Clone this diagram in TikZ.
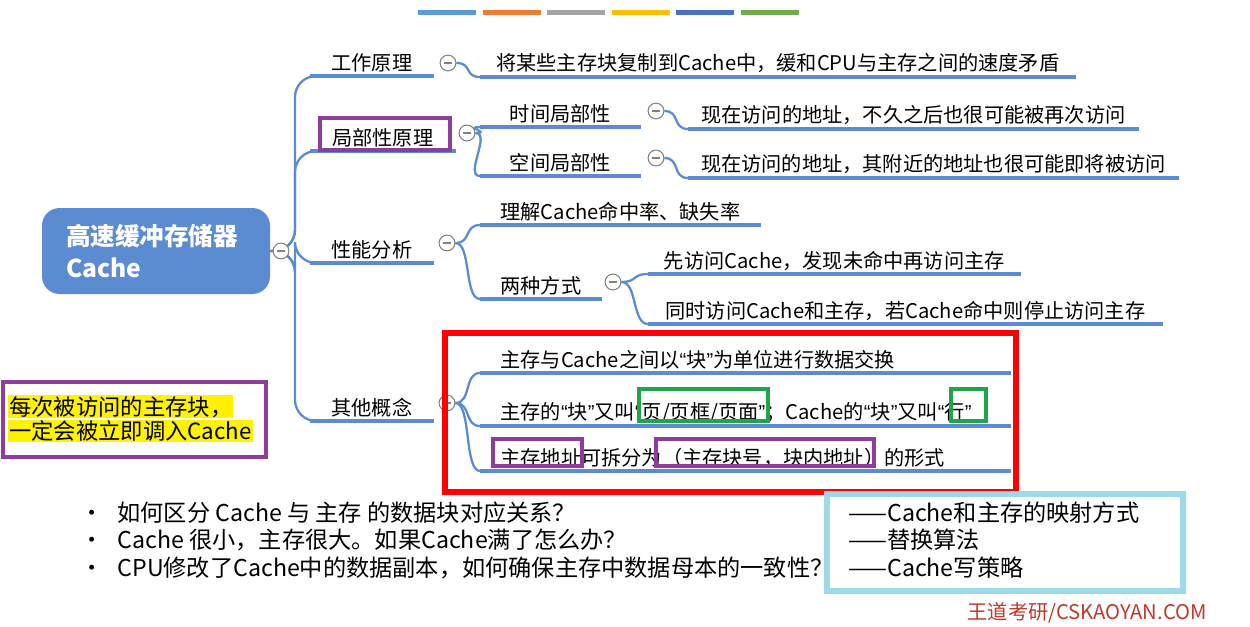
\documentclass[tikz,border=0pt]{standalone}
\usepackage{fontspec}
\setmainfont{Noto Sans CJK SC}
\newfontfamily\latinq{Liberation Sans}
\usetikzlibrary{positioning}
\definecolor{mapblue}{HTML}{5B8BD0}
\definecolor{barblue}{HTML}{5B9BD5}
\definecolor{barorange}{HTML}{ED7D31}
\definecolor{bargray}{HTML}{A5A5A5}
\definecolor{baryellow}{HTML}{FFC000}
\definecolor{bardark}{HTML}{4472C4}
\definecolor{bargreen}{HTML}{70AD47}
\definecolor{boxpurple}{HTML}{8E3C9E}
\definecolor{boxgreen}{HTML}{1FA64A}
\definecolor{boxcyan}{HTML}{9DD9E8}
\definecolor{brandred}{HTML}{C0392B}
\tikzset{
  branch/.style={mapblue, line width=1.3pt, rounded corners=12},
  twig/.style={mapblue, line width=1.3pt},
  uline/.style={mapblue, line width=1.8pt},
  topic/.style={inner sep=0pt, anchor=south west, align=center, font=\fontsize{11.5}{14}\selectfont},
  fold/.style={circle, draw=gray, line width=0.6pt, minimum size=9pt, inner sep=0pt, fill=white,
    path picture={\draw[gray, line width=0.6pt] ([xshift=-2.5pt]path picture bounding box.center) -- ([xshift=2.5pt]path picture bounding box.center);}},
  markbox/.style={line width=2.2pt},
}
% comillas estrechas
\newcommand{\oq}{{\latinq “}}
\newcommand{\cq}{{\latinq ”}}
% topic node: name, x1, x2, y of underline, text
\newcommand{\topicnode}[5]{%
  \node[topic, minimum width={(#3-#2)*0.02cm}, minimum height=15pt] (#1) at (#2,#4) {#5};
  \draw[uline] (#1.south west) -- (#1.south east);}
\newcommand{\lefttext}[1]{\makebox[10.6cm][l]{\hspace*{0.4cm}#1}}
\begin{document}
\begin{tikzpicture}[x=0.02cm, y=-0.02cm]
  \useasboundingbox (0,0) rectangle (1250,626);

  % barras de color
  \foreach \c [count=\i from 0] in {barblue,barorange,bargray,baryellow,bardark,bargreen}
    \fill[\c] (418+\i*64.6,10) rectangle ++(58,5);

  % raiz
  \node[fill=mapblue, rounded corners=10pt, minimum width=228*0.02cm, minimum height=86*0.02cm,
        text=white, font=\fontsize{14}{18}\bfseries\selectfont, align=left, text width=180*0.02cm]
        (root) at (156,251) {高速缓冲存储器\\Cache};

  % primer nivel
  \topicnode{t1}{310}{433}{76}{工作原理}
  \topicnode{t2}{310}{455}{151}{局部性原理}
  \topicnode{t3}{310}{433}{263}{性能分析}
  \topicnode{t4}{310}{433}{421}{其他概念}
  \coordinate (hub) at (295,251);
  \foreach \t in {t1,t2,t3,t4}
    \draw[branch] (root.east) -- (hub) |- (\t.south west);

  % hojas
  \topicnode{a1}{480}{1075}{77}{将某些主存块复制到Cache中，缓和CPU与主存之间的速度矛盾}
  \topicnode{b1}{480}{640}{127}{时间局部性}
  \topicnode{b2}{480}{640}{176}{空间局部性}
  \topicnode{b3}{688}{1138}{129}{现在访问的地址，不久之后也很可能被再次访问}
  \topicnode{b4}{688}{1178}{178}{现在访问的地址，其附近的地址也很可能即将被访问}
  \topicnode{c1}{480}{760}{225}{理解Cache命中率、缺失率}
  \topicnode{c2}{480}{601}{299}{两种方式}
  \topicnode{c3}{648}{1020}{274}{先访问Cache，发现未命中再访问主存}
  \topicnode{c4}{648}{1162}{324}{同时访问Cache和主存，若Cache命中则停止访问主存}
  \topicnode{d1}{480}{1010}{373}{\lefttext{主存与Cache之间以\oq 块\cq 为单位进行数据交换}}
  \topicnode{d2}{480}{1010}{426}{\lefttext{主存的\oq 块\cq 又叫\oq 页/页框/页面\cq ；Cache的\oq 块\cq 又叫\oq 行\cq}}
  \topicnode{d3}{480}{1010}{471}{\lefttext{主存地址可拆分为（主存块号，块内地址）的形式}}

  % botones
  \node[fold] (f0) at (281,251) {};
  \node[fold] (f1) at (448,63) {};
  \node[fold] (f2) at (467,133) {};
  \node[fold] (f3) at (447,243) {};
  \node[fold] (f4) at (447,403) {};
  \node[fold] (f5) at (656,111) {};
  \node[fold] (f6) at (656,158) {};
  \node[fold] (f7) at (613,282) {};

  % conectores
  \foreach \f/\t in {f1/a1, f2/b1, f2/b2, f5/b3, f6/b4, f3/c1, f3/c2, f7/c3, f7/c4, f4/d1, f4/d2, f4/d3}
    \draw[twig] (\f.east) .. controls +(16,0) and +(-16,0) .. (\t.south west);

  % marcos
  \draw[red, line width=3pt] (445,333) rectangle (1016,492);
  \draw[markbox, boxpurple] (320,118) rectangle (450,150);
  \draw[markbox, boxgreen] (639,389) rectangle (768,421);
  \draw[markbox, boxgreen] (951,389) rectangle (986,421);
  \draw[markbox, boxpurple] (493,439) rectangle (582,466);
  \draw[markbox, boxpurple] (656,439) rectangle (874,466);

  % nota izquierda
  \draw[markbox, boxpurple] (3,382) rectangle (266,457);
  \node[anchor=north west, inner sep=0pt, align=left, font=\fontsize{12.7}{16}\selectfont] (note) at (8,395)
    {\setlength{\fboxsep}{0.5pt}\colorbox{yellow}{每次被访问的主存块，}\\[-2pt]\setlength{\fboxsep}{0.5pt}\colorbox{yellow}{一定会被立即调入Cache}};

  % preguntas
  \foreach \y/\q in {513/如何区分 Cache 与 主存 的数据块对应关系？,
                     540/Cache 很小，主存很大。如果Cache满了怎么办？,
                     568/CPU修改了Cache中的数据副本，如何确保主存中数据母本的一致性？}
    \node[anchor=west, inner sep=0pt, font=\fontsize{13.2}{15}\selectfont] at (80,\y) {•\hspace{8pt}\q};

  \draw[boxcyan, line width=3pt] (827,494) rectangle (1183,591);
  \foreach \y/\a in {513/——Cache和主存的映射方式, 540/——替换算法, 568/——Cache写策略}
    \node[anchor=west, inner sep=0pt, font=\fontsize{13.2}{15}\selectfont] at (848,\y) {\a};

  \node[anchor=east, inner sep=0pt, text=brandred, font=\fontsize{11.5}{14}\selectfont] (brand) at (1207,613) {王道考研/CSKAOYAN.COM};
\end{tikzpicture}
\end{document}
